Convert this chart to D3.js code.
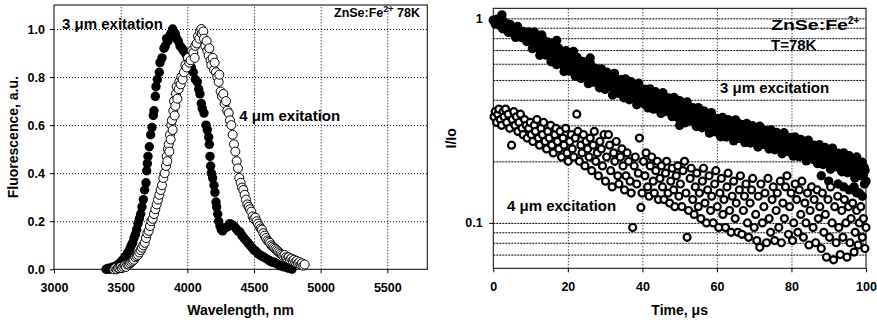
<!DOCTYPE html>
<html>
<head>
<meta charset="utf-8">
<script src="https://cdn.jsdelivr.net/npm/d3@7"></script>
<style>
  body { margin: 0; background: #fff; }
  svg { display: block; }
  text { font-family: "Liberation Sans", Arial, sans-serif; font-weight: bold; fill: #000; }
</style>
</head>
<body>
<div id="chart"></div>
<script>
// ---- data: fluorescence spectra (wavelength nm, normalised intensity)
const spectrum3um = [
  [3390,0.00],[3400,0.00],[3410,0.005],[3420,0.00],[3430,0.005],[3440,0.01],[3450,0.005],[3460,0.01],
  [3470,0.015],[3480,0.02],[3490,0.02],[3500,0.03],[3510,0.035],[3520,0.04],[3530,0.05],[3540,0.055],
  [3550,0.065],[3560,0.075],[3570,0.085],[3580,0.10],[3590,0.11],[3600,0.13],[3610,0.145],[3620,0.165],
  [3630,0.19],[3640,0.21],[3650,0.23],[3660,0.26],[3670,0.29],[3680,0.33],[3690,0.36],[3695,0.41],
  [3700,0.44],[3705,0.47],[3715,0.51],[3725,0.56],[3735,0.59],[3745,0.64],[3750,0.66],[3760,0.72],
  [3765,0.76],[3775,0.79],[3790,0.82],[3795,0.86],[3810,0.88],[3825,0.92],[3835,0.93],[3845,0.96],
  [3855,0.95],[3865,0.97],[3875,0.98],[3890,1.00],[3900,0.97],[3910,0.98],[3920,0.96],[3932,0.95],
  [3945,0.93],[3960,0.92],[3970,0.91],[3985,0.90],[4000,0.88],[4015,0.87],[4030,0.84],[4045,0.82],
  [4060,0.79],[4075,0.78],[4085,0.75],[4095,0.73],[4105,0.69],[4112,0.67],[4125,0.65],[4140,0.60],
  [4150,0.58],[4160,0.55],[4165,0.52],[4170,0.47],[4175,0.43],[4180,0.40],[4190,0.38],[4200,0.35],
  [4207,0.32],[4215,0.28],[4220,0.26],[4228,0.23],[4235,0.20],[4245,0.18],[4255,0.165],[4265,0.16],
  [4280,0.17],[4295,0.175],[4310,0.18],[4320,0.19],[4335,0.185],[4350,0.18],[4365,0.17],[4380,0.16],
  [4395,0.155],[4410,0.14],[4425,0.13],[4440,0.12],[4455,0.11],[4470,0.10],[4485,0.09],[4500,0.08],
  [4515,0.075],[4530,0.065],[4545,0.06],[4560,0.055],[4575,0.05],[4590,0.045],[4605,0.04],[4620,0.035],
  [4635,0.03],[4650,0.03],[4665,0.025],[4680,0.02],[4695,0.015],[4710,0.015],[4725,0.01],[4740,0.01],
  [4755,0.005],[4770,0.005],[4785,0.00]
];
const spectrum4um = [
  [3450,0.00],[3460,0.005],[3470,0.00],[3480,0.005],[3490,0.005],[3500,0.01],[3510,0.005],[3520,0.01],
  [3530,0.015],[3540,0.01],[3550,0.02],[3560,0.02],[3570,0.025],[3580,0.03],[3590,0.035],[3600,0.04],
  [3610,0.05],[3620,0.055],[3630,0.06],[3640,0.07],[3650,0.08],[3660,0.09],[3670,0.10],[3680,0.11],
  [3690,0.13],[3700,0.15],[3710,0.16],[3720,0.18],[3730,0.20],[3740,0.21],[3750,0.23],[3760,0.25],
  [3770,0.27],[3780,0.29],[3790,0.31],[3800,0.33],[3810,0.35],[3820,0.38],[3830,0.40],[3840,0.43],
  [3845,0.47],[3850,0.45],[3855,0.50],[3860,0.52],[3865,0.49],[3870,0.56],[3875,0.54],[3880,0.60],
  [3885,0.62],[3890,0.58],[3895,0.66],[3900,0.70],[3905,0.64],[3910,0.68],[3915,0.73],[3920,0.76],
  [3925,0.71],[3935,0.75],[3940,0.78],[3950,0.77],[3955,0.80],[3965,0.79],[3975,0.82],[3985,0.85],
  [3995,0.84],[4005,0.88],[4015,0.86],[4025,0.87],[4035,0.91],[4045,0.90],[4055,0.88],[4060,0.93],
  [4070,0.94],[4080,0.97],[4090,0.96],[4095,0.99],[4105,1.00],[4110,0.98],[4120,0.99],[4125,0.96],
  [4135,0.93],[4145,0.95],[4150,0.91],[4160,0.89],[4165,0.92],[4175,0.87],[4180,0.85],[4190,0.88],
  [4200,0.83],[4205,0.86],[4215,0.82],[4225,0.80],[4235,0.78],[4240,0.81],[4250,0.74],[4260,0.72],
  [4270,0.73],[4280,0.69],[4290,0.70],[4300,0.66],[4310,0.65],[4320,0.62],[4330,0.60],[4340,0.56],
  [4350,0.52],[4360,0.49],[4370,0.45],[4380,0.42],[4390,0.38],[4400,0.36],[4410,0.34],[4420,0.33],
  [4430,0.31],[4440,0.29],[4450,0.27],[4460,0.26],[4470,0.25],[4480,0.24],[4490,0.22],[4500,0.21],
  [4510,0.215],[4520,0.20],[4530,0.19],[4540,0.18],[4550,0.17],[4560,0.165],[4570,0.15],[4580,0.14],
  [4590,0.13],[4600,0.12],[4610,0.115],[4620,0.11],[4630,0.10],[4640,0.095],[4650,0.09],[4660,0.085],
  [4670,0.08],[4680,0.075],[4690,0.07],[4700,0.065],[4710,0.06],[4720,0.055],[4730,0.06],[4740,0.05],
  [4750,0.045],[4760,0.05],[4770,0.04],[4780,0.045],[4790,0.035],[4800,0.04],[4810,0.03],[4820,0.035],
  [4830,0.025],[4840,0.03],[4850,0.02],[4860,0.025],[4870,0.015],[4880,0.02]
];

// ---- data: decay curves (time us, I/Io); 3 um excitation recorded twice
const decay3um = [
  [0.0,0.98],[0.5,0.94],[1.0,0.99],[1.5,0.93],[2.0,0.96],[2.3,1.04],[2.5,0.89],[3.0,0.96],[3.5,0.91],
  [4.0,0.855],[4.5,0.935],[5.0,0.854],[5.5,0.896],[6.0,0.808],[6.5,0.912],[7.0,0.842],[7.5,0.806],
  [8.0,0.863],[8.5,0.836],[9.0,0.771],[9.5,0.859],[10.0,0.80],[10.5,0.711],[11.0,0.858],[11.5,0.732],
  [12.0,0.798],[12.5,0.66],[13.0,0.829],[13.5,0.708],[14.0,0.662],[14.5,0.767],[15.0,0.721],[15.5,0.614],
  [16.0,0.755],[16.5,0.67],[17.0,0.594],[17.0,0.78],[17.5,0.715],[18.0,0.613],[18.5,0.667],[19.0,0.55],
  [19.5,0.694],[20.0,0.592],[20.5,0.552],[21.0,0.648],[21.5,0.608],[21.5,0.69],[22.0,0.521],[22.5,0.644],
  [23.0,0.575],[23.5,0.509],[24.0,0.616],[24.5,0.527],[25.0,0.578],[25.5,0.48],[26.0,0.605],[26.0,0.64],
  [26.5,0.519],[27.0,0.488],[27.5,0.567],[28.0,0.536],[28.5,0.458],[29.0,0.566],[29.5,0.505],[30.0,0.45],
  [30.5,0.545],[31.0,0.466],[31.5,0.509],[32.0,0.422],[32.5,0.538],[33.0,0.461],[33.5,0.432],[34.0,0.502],
  [34.5,0.479],[35.0,0.409],[35.5,0.505],[36.0,0.45],[36.5,0.40],[37.0,0.49],[37.5,0.418],[38.0,0.457],
  [38.5,0.378],[39.0,0.482],[39.5,0.412],[40.0,0.386],[40.5,0.45],[41.0,0.426],[41.5,0.365],[42.0,0.452],
  [42.5,0.404],[43.0,0.36],[43.5,0.438],[44.0,0.375],[44.5,0.412],[45.0,0.343],[45.5,0.433],[46.0,0.372],
  [46.5,0.351],[47.0,0.408],[47.5,0.386],[48.0,0.331],[48.5,0.41],[49.0,0.366],[49.5,0.327],[50.0,0.396],
  [50.0,0.30],[50.5,0.339],[51.0,0.372],[51.5,0.309],[52.0,0.39],[52.5,0.335],[53.0,0.315],[53.5,0.366],
  [54.0,0.346],[54.5,0.296],[55.0,0.366],[55.5,0.327],[56.0,0.292],[56.5,0.353],[57.0,0.302],[57.5,0.331],
  [58.0,0.275],[58.5,0.346],[59.0,0.297],[59.5,0.279],[60.0,0.324],[60.5,0.307],[61.0,0.264],[61.5,0.328],
  [62.0,0.294],[62.5,0.263],[63.0,0.32],[63.5,0.275],[64.0,0.302],[64.5,0.252],[65.0,0.319],[65.5,0.275],
  [66.0,0.259],[66.5,0.303],[67.0,0.287],[67.5,0.247],[68.0,0.306],[68.5,0.275],[69.0,0.246],[69.5,0.299],
  [70.0,0.257],[70.5,0.282],[71.0,0.235],[71.5,0.297],[72.0,0.256],[72.5,0.242],[73.0,0.282],[73.5,0.267],
  [74.0,0.23],[74.5,0.285],[75.0,0.255],[75.5,0.228],[76.0,0.277],[76.5,0.238],[77.0,0.261],[77.5,0.218],
  [78.0,0.276],[78.5,0.237],[79.0,0.224],[79.5,0.261],[80.0,0.247],[80.5,0.212],[81.0,0.263],[81.5,0.236],
  [82.0,0.211],[82.5,0.256],[83.0,0.219],[83.5,0.241],[84.0,0.201],[84.5,0.254],[85.0,0.218],[85.5,0.206],
  [86.0,0.24],[86.5,0.227],[87.0,0.195],[87.5,0.241],[88.0,0.216],[88.5,0.193],[89.0,0.234],[89.5,0.201],
  [90.0,0.221],[90.5,0.183],[91.0,0.232],[91.5,0.199],[92.0,0.188],[92.5,0.219],[93.0,0.207],[93.5,0.178],
  [94.0,0.22],[94.5,0.197],[95.0,0.176],[95.5,0.213],[96.0,0.182],[96.5,0.20],[96.8,0.15],[97.0,0.166],
  [97.5,0.21],[98.0,0.18],[98.2,0.14],[98.5,0.17],[99.0,0.198],[99.0,0.135],[99.5,0.187],[99.6,0.155],
  [100,0.16]
];
const decay3umScan2 = [
  [0.25,0.97],[0.75,0.95],[1.25,0.97],[1.75,0.93],[2.25,0.95],[2.75,0.91],[3.25,0.93],[3.75,0.88],
  [4.25,0.91],[4.75,0.86],[5.25,0.89],[5.75,0.85],[6.25,0.87],[6.75,0.83],[7.25,0.86],[7.75,0.82],
  [8.25,0.85],[8.75,0.79],[9.25,0.83],[9.75,0.78],[10.25,0.819],[10.75,0.754],[11.25,0.822],[11.75,0.719],
  [12.25,0.755],[12.75,0.685],[13.25,0.794],[13.75,0.747],[14.25,0.686],[14.75,0.747],[15.25,0.653],
  [15.75,0.685],[16.25,0.621],[16.75,0.718],[17.25,0.675],[17.75,0.622],[18.25,0.678],[18.75,0.592],
  [19.25,0.622],[19.75,0.566],[20.25,0.653],[20.75,0.618],[21.25,0.571],[21.75,0.623],[22.25,0.547],
  [22.75,0.578],[23.25,0.524],[23.75,0.607],[24.25,0.575],[24.75,0.53],[25.25,0.581],[25.75,0.509],
  [26.25,0.538],[26.75,0.489],[27.25,0.57],[27.75,0.538],[28.25,0.497],[28.75,0.543],[29.25,0.478],
  [29.75,0.502],[30.25,0.458],[30.75,0.531],[31.25,0.503],[31.75,0.463],[32.25,0.509],[32.75,0.449],
  [33.25,0.472],[33.75,0.431],[34.25,0.502],[34.75,0.476],[35.25,0.44],[35.75,0.479],[36.25,0.421],
  [36.75,0.445],[37.25,0.407],[37.75,0.473],[38.25,0.445],[38.75,0.413],[39.25,0.454],[39.75,0.397],
  [40.25,0.418],[40.75,0.382],[41.25,0.445],[41.75,0.42],[42.25,0.389],[42.75,0.426],[43.25,0.375],
  [43.75,0.396],[44.25,0.362],[44.75,0.422],[45.25,0.40],[45.75,0.37],[46.25,0.405],[46.75,0.356],
  [47.25,0.376],[47.75,0.343],[48.25,0.40],[48.75,0.378],[49.25,0.35],[49.75,0.383],[50.25,0.337],
  [50.75,0.355],[51.25,0.324],[51.75,0.377],[52.25,0.356],[52.75,0.329],[53.25,0.36],[53.75,0.317],
  [54.25,0.334],[54.75,0.305],[55.25,0.354],[55.75,0.335],[56.25,0.309],[56.75,0.338],[57.25,0.297],
  [57.75,0.313],[58.25,0.285],[58.75,0.332],[59.25,0.313],[59.75,0.289],[60.25,0.317],[60.75,0.28],
  [61.25,0.296],[61.75,0.271],[62.25,0.316],[62.75,0.301],[63.25,0.278],[63.75,0.306],[64.25,0.27],
  [64.75,0.286],[65.25,0.261],[65.75,0.306],[66.25,0.289],[66.75,0.269],[67.25,0.295],[67.75,0.26],
  [68.25,0.275],[68.75,0.252],[69.25,0.294],[69.75,0.279],[70.25,0.258],[70.75,0.284],[71.25,0.25],
  [71.75,0.265],[72.25,0.242],[72.75,0.283],[73.25,0.268],[73.75,0.249],[74.25,0.272],[74.75,0.241],
  [75.25,0.254],[75.75,0.233],[76.25,0.271],[76.75,0.258],[77.25,0.238],[77.75,0.262],[78.25,0.23],
  [78.75,0.244],[79.25,0.223],[79.75,0.26],[80.25,0.246],[80.75,0.228],[81.25,0.25],[81.75,0.221],
  [82.25,0.233],[82.75,0.213],[83.25,0.248],[83.75,0.236],[84.25,0.218],[84.75,0.24],[85.25,0.211],
  [85.75,0.223],[86.25,0.203],[86.75,0.238],[87.25,0.225],[87.75,0.208],[88.0,0.17],[88.25,0.228],
  [88.75,0.201],[89.25,0.212],[89.75,0.194],[90.0,0.16],[90.25,0.226],[90.75,0.214],[91.25,0.198],
  [91.75,0.217],[92.25,0.191],[92.5,0.155],[92.75,0.202],[93.25,0.184],[93.75,0.215],[94.0,0.15],
  [94.25,0.203],[94.75,0.188],[95.25,0.206],[95.5,0.145],[95.75,0.181],[96.25,0.191],[96.75,0.175],
  [97.25,0.203],[97.5,0.14],[97.75,0.193],[98.25,0.178],[98.75,0.195],[99.25,0.171],[99.75,0.181]
];
const decay4um = [
  [0.2,0.33],[0.5,0.35],[0.9,0.31],[1.2,0.34],[1.5,0.36],[1.9,0.32],[2.2,0.30],[2.6,0.35],[2.9,0.33],
  [3.3,0.36],[3.6,0.31],[4.0,0.34],[4.4,0.29],[4.9,0.24],[5.1,0.32],[5.5,0.35],[5.8,0.30],[6.2,0.33],
  [6.6,0.28],[6.9,0.31],[7.3,0.34],[7.7,0.29],[8.0,0.27],[8.4,0.32],[8.8,0.30],[9.1,0.26],[9.5,0.29],
  [9.9,0.31],[10.2,0.27],[10.6,0.25],[11.0,0.30],[11.3,0.28],[11.7,0.32],[12.1,0.26],[12.4,0.24],
  [12.8,0.29],[13.2,0.27],[13.5,0.31],[13.9,0.25],[14.3,0.23],[14.6,0.28],[15.0,0.26],[15.4,0.30],
  [15.7,0.24],[16.1,0.22],[16.5,0.27],[16.8,0.29],[17.2,0.25],[17.6,0.23],[17.9,0.28],[18.3,0.21],
  [18.7,0.26],[19.0,0.24],[19.4,0.29],[19.8,0.22],[20.1,0.20],[20.5,0.25],[20.9,0.27],[21.2,0.23],
  [21.6,0.21],[22.0,0.26],[22.4,0.34],[22.7,0.28],[23.1,0.20],[23.5,0.24],[23.8,0.22],[24.2,0.27],
  [24.6,0.19],[24.9,0.25],[25.3,0.23],[25.7,0.21],[26.0,0.26],[26.4,0.18],[26.8,0.24],[27.1,0.28],
  [27.5,0.20],[27.9,0.22],[28.2,0.17],[28.6,0.25],[29.0,0.23],[29.3,0.19],[29.7,0.27],[30.1,0.16],
  [30.4,0.21],[30.9,0.27],[31.2,0.24],[31.5,0.18],[31.9,0.15],[32.3,0.22],[32.6,0.20],[33.0,0.25],
  [33.4,0.17],[33.7,0.155],[34.1,0.21],[34.5,0.23],[34.8,0.19],[35.2,0.145],[35.6,0.17],[35.9,0.22],
  [36.3,0.20],[36.7,0.16],[37.0,0.14],[37.4,0.095],[37.8,0.19],[38.1,0.21],[38.5,0.155],[38.9,0.175],
  [39.2,0.26],[39.6,0.119],[39.9,0.14],[40.3,0.20],[40.7,0.17],[41.0,0.22],[41.4,0.15],[41.8,0.135],
  [42.1,0.19],[42.5,0.21],[42.9,0.16],[43.2,0.14],[43.6,0.18],[44.0,0.20],[44.3,0.13],[44.7,0.165],
  [45.1,0.19],[45.4,0.15],[45.8,0.13],[46.2,0.175],[46.5,0.20],[46.9,0.14],[47.3,0.125],[47.6,0.16],
  [48.0,0.185],[48.4,0.145],[48.7,0.12],[49.1,0.17],[49.5,0.19],[49.8,0.135],[50.2,0.155],[50.6,0.12],
  [50.9,0.18],[51.3,0.20],[51.7,0.14],[52.0,0.085],[52.4,0.115],[52.8,0.165],[53.1,0.185],[53.5,0.13],
  [53.9,0.11],[54.2,0.15],[54.6,0.175],[55.0,0.12],[55.3,0.14],[55.7,0.105],[56.1,0.16],[56.4,0.185],
  [56.8,0.125],[57.2,0.10],[57.5,0.145],[57.9,0.17],[58.3,0.115],[58.6,0.135],[59.0,0.10],[59.4,0.155],
  [59.7,0.18],[60.1,0.12],[60.5,0.095],[60.8,0.14],[61.2,0.165],[61.6,0.11],[61.9,0.13],[62.3,0.095],
  [62.7,0.15],[63.0,0.175],[63.4,0.115],[63.8,0.09],[64.1,0.135],[64.5,0.16],[64.9,0.105],[65.2,0.125],
  [65.6,0.09],[66.0,0.145],[66.3,0.17],[66.7,0.088],[67.1,0.115],[67.4,0.135],[67.8,0.155],[68.2,0.10],
  [68.5,0.085],[68.9,0.125],[69.3,0.145],[69.6,0.165],[70.0,0.095],[70.4,0.11],[70.7,0.082],[71.1,0.135],
  [71.5,0.076],[71.8,0.155],[72.2,0.10],[72.6,0.12],[72.9,0.14],[73.3,0.08],[73.7,0.165],[74.0,0.105],
  [74.4,0.09],[74.8,0.13],[75.1,0.15],[75.5,0.082],[75.9,0.115],[76.2,0.14],[76.6,0.095],[77.0,0.16],
  [77.3,0.08],[77.7,0.125],[78.1,0.105],[78.4,0.15],[78.8,0.17],[79.2,0.088],[79.5,0.12],[79.9,0.14],
  [80.3,0.082],[80.6,0.10],[81.0,0.155],[81.4,0.13],[81.7,0.09],[82.1,0.145],[82.5,0.11],[82.8,0.16],
  [83.2,0.085],[83.6,0.125],[83.9,0.10],[84.3,0.14],[84.7,0.078],[85.0,0.115],[85.4,0.15],[85.8,0.095],
  [86.1,0.13],[86.5,0.08],[86.9,0.145],[87.2,0.105],[87.6,0.12],[88.0,0.075],[88.3,0.14],[88.7,0.09],
  [89.1,0.11],[89.4,0.068],[89.8,0.13],[90.2,0.085],[90.5,0.15],[90.9,0.10],[91.3,0.066],[91.6,0.12],
  [92.0,0.08],[92.4,0.135],[92.7,0.095],[93.1,0.07],[93.5,0.115],[93.8,0.085],[94.2,0.13],[94.6,0.10],
  [94.9,0.068],[95.3,0.12],[95.7,0.08],[96.0,0.105],[96.4,0.125],[96.8,0.072],[97.1,0.09],[97.5,0.115],
  [97.9,0.078],[98.2,0.10],[98.6,0.12],[99.0,0.085],[99.3,0.105],[99.7,0.075],[100,0.095]
];

// ---- ticks
const wavelengthTicks = [3000, 3500, 4000, 4500, 5000, 5500];
const fluorTicks = [0, 0.2, 0.4, 0.6, 0.8, 1.0];
const timeTicks = [0, 20, 40, 60, 80, 100];
const ratioTicks = [0.1, 1];
const ratioGrid = [0.07, 0.08, 0.09, 0.1, 0.2, 0.3, 0.4, 0.5, 0.6, 0.7, 0.8, 0.9, 1];

const svg = d3.select('#chart').append('svg')
  .attr('width', 877)
  .attr('height', 323);

// tick labels: bold, a bit larger than d3 default
function styleTicks(g) {
  g.selectAll('text')
    .attr('font-size', 12.5)
    .attr('font-family', null)
    .style('font-weight', '700');
  g.select('.domain').remove();
}

// ================= left panel: spectra =================
const m1 = { left: 54, top: 5 };
const w1 = 373.3, h1 = 264.3;

const x1 = d3.scaleLinear().domain([3000, 5800]).range([0, w1]);
const y1 = d3.scaleLinear().domain([0, 1.1]).range([h1, 0]);

const g1 = svg.append('g').attr('transform', `translate(${m1.left},${m1.top})`);

// dotted grid
g1.append('g')
  .attr('transform', `translate(0,${h1})`)
  .call(d3.axisBottom(x1).tickValues(wavelengthTicks.slice(1)).tickSize(-h1).tickFormat(''))
  .call(g => g.select('.domain').remove())
  .selectAll('line').attr('stroke', '#000').attr('stroke-dasharray', '1,2');
g1.append('g')
  .call(d3.axisLeft(y1).tickValues(fluorTicks.slice(1)).tickSize(-w1).tickFormat(''))
  .call(g => g.select('.domain').remove())
  .selectAll('line').attr('stroke', '#000').attr('stroke-dasharray', '1,2');

// axes
g1.append('g')
  .attr('transform', `translate(0,${h1})`)
  .call(d3.axisBottom(x1).tickValues(wavelengthTicks).tickFormat(d3.format('d')).tickSize(4).tickPadding(9.7).tickSizeOuter(0))
  .call(styleTicks);
g1.append('g')
  .call(d3.axisLeft(y1).tickValues(fluorTicks).tickFormat(d3.format('.1f')).tickSize(4).tickPadding(5).tickSizeOuter(0))
  .call(styleTicks);

g1.append('rect')
  .attr('width', w1).attr('height', h1)
  .attr('fill', 'none').attr('stroke', '#000').attr('stroke-width', 1);

// annotations
g1.append('text').attr('x', 8).attr('y', 24).attr('font-size', 15).text('3 μm exitation');
g1.append('text').attr('x', 185.3).attr('y', 116).attr('font-size', 15).text('4 μm exitation');
const lbl1 = g1.append('text').attr('x', 366).attr('y', 12.3).attr('font-size', 12.5).attr('text-anchor', 'end');
lbl1.append('tspan').text('ZnSe:Fe');
lbl1.append('tspan').attr('font-size', 9).attr('dy', -5).text('2+');
lbl1.append('tspan').attr('dy', 5).text(' 78K');

// markers
g1.append('g').selectAll('circle')
  .data(spectrum3um)
  .enter().append('circle')
  .attr('cx', d => x1(d[0]))
  .attr('cy', d => y1(d[1]))
  .attr('r', 4.7)
  .attr('fill', '#000');
g1.append('g').selectAll('circle')
  .data(spectrum4um)
  .enter().append('circle')
  .attr('cx', d => x1(d[0]))
  .attr('cy', d => y1(d[1]))
  .attr('r', 4.5)
  .attr('fill', '#fff')
  .attr('stroke', '#000')
  .attr('stroke-width', 1);

// titles
svg.append('text')
  .attr('x', m1.left + w1 / 2).attr('y', 315)
  .attr('text-anchor', 'middle').attr('font-size', 14)
  .text('Wavelength, nm');
svg.append('text')
  .attr('transform', `translate(17.5,${m1.top + h1 / 2}) rotate(-90)`)
  .attr('text-anchor', 'middle').attr('font-size', 14)
  .text('Fluorescence, a.u.');

// ================= right panel: decay =================
const m2 = { left: 493.3, top: 8.3 };
const w2 = 372.7, h2 = 260;

const x2 = d3.scaleLinear().domain([0, 100]).range([0, w2]);
const y2 = d3.scaleLog().domain([0.06, 1.12]).range([h2, 0]);

const g2 = svg.append('g').attr('transform', `translate(${m2.left},${m2.top})`);

g2.append('g')
  .attr('transform', `translate(0,${h2})`)
  .call(d3.axisBottom(x2).tickValues(timeTicks.slice(1, -1)).tickSize(-h2).tickFormat(''))
  .call(g => g.select('.domain').remove())
  .selectAll('line').attr('stroke', '#000').attr('stroke-dasharray', '1,2');
g2.append('g')
  .call(d3.axisLeft(y2).tickValues(ratioGrid).tickSize(-w2).tickFormat(''))
  .call(g => g.select('.domain').remove())
  .selectAll('line').attr('stroke', '#000').attr('stroke-dasharray', '2,1');

g2.append('g')
  .attr('transform', `translate(0,${h2})`)
  .call(d3.axisBottom(x2).tickValues(timeTicks).tickSize(4).tickPadding(10).tickSizeOuter(0))
  .call(styleTicks);
g2.append('g')
  .call(d3.axisLeft(y2).tickValues(ratioTicks).tickFormat(d3.format('~g')).tickSize(4).tickPadding(6.6).tickSizeOuter(0))
  .call(styleTicks);

g2.append('rect')
  .attr('width', w2).attr('height', h2)
  .attr('fill', 'none').attr('stroke', '#000').attr('stroke-width', 1);

// annotations
const lbl2 = g2.append('text').attr('x', 277.7).attr('y', 21.7).attr('font-size', 15);
lbl2.append('tspan').attr('textLength', 77).attr('lengthAdjust', 'spacingAndGlyphs').text('ZnSe:Fe');
lbl2.append('tspan').attr('font-size', 10).attr('dy', -6).text('2+');
g2.append('text').attr('x', 277.7).attr('y', 41.7).attr('font-size', 15).text('T=78K');
g2.append('text').attr('x', 226.7).attr('y', 85.2).attr('font-size', 15).text('3 μm excitation');
g2.append('text').attr('x', 13.7).attr('y', 202.4).attr('font-size', 15).text('4 μm excitation');

g2.append('g').selectAll('circle')
  .data(decay3um.concat(decay3umScan2))
  .enter().append('circle')
  .attr('cx', d => x2(d[0]))
  .attr('cy', d => y2(d[1]))
  .attr('r', 4.7)
  .attr('fill', '#000');
g2.append('g').selectAll('circle')
  .data(decay4um)
  .enter().append('circle')
  .attr('cx', d => x2(d[0]))
  .attr('cy', d => y2(d[1]))
  .attr('r', 3.5)
  .attr('fill', '#fff')
  .attr('stroke', '#000')
  .attr('stroke-width', 2.2);

svg.append('text')
  .attr('x', m2.left + w2 / 2).attr('y', 315)
  .attr('text-anchor', 'middle').attr('font-size', 14)
  .text('Time, μs');
svg.append('text')
  .attr('transform', `translate(456,${m2.top + h2 / 2}) rotate(-90)`)
  .attr('text-anchor', 'middle').attr('font-size', 14)
  .text('I/Io');
</script>
</body>
</html>
